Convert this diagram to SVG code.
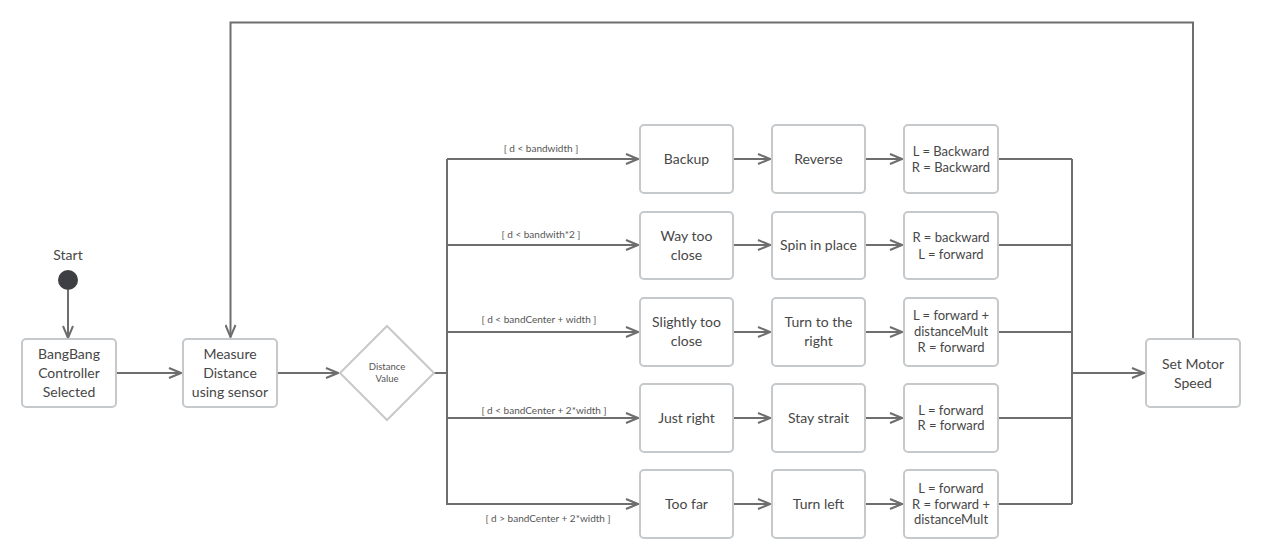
<svg xmlns="http://www.w3.org/2000/svg" width="1262" height="560" viewBox="0 0 1262 560">
<defs>
<style>
.box{fill:#fff;stroke:#c6c9cb;stroke-width:2}
.t{font-family:Lato,"Noto Sans",sans-serif;font-size:14px;fill:#474747;text-anchor:middle}
.s{font-family:Lato,"Noto Sans",sans-serif;font-size:13px;fill:#474747;text-anchor:middle}
.g{font-family:Lato,"Noto Sans",sans-serif;font-size:10px;fill:#555;text-anchor:middle}
.d{font-family:Lato,"Noto Sans",sans-serif;font-size:9.5px;fill:#555;text-anchor:middle}
.ln{fill:none;stroke:#6e6e6e;stroke-width:2}
.ar{fill:none;stroke:#6e6e6e;stroke-width:2;marker-end:url(#arr)}
</style>
<marker id="arr" viewBox="0 0 14 12" refX="13" refY="6" markerWidth="14" markerHeight="12" markerUnits="userSpaceOnUse" orient="auto">
<path d="M1,1 L13,6 L1,11" fill="none" stroke="#6e6e6e" stroke-width="2"/>
</marker>
</defs>
<rect width="1262" height="560" fill="#fff"/>
<g id="connectors">
<path class="ar" d="M68,290 V338"/>
<path class="ar" d="M116,373 H181"/>
<path class="ar" d="M277,373 H338"/>
<path class="ln" d="M434,373 H447" stroke-width="3"/>
<path class="ln" d="M447,159 V505" stroke-width="3"/>
<path class="ar" d="M447,159 H638"/>
<path class="ar" d="M447,245 H638"/>
<path class="ar" d="M447,332 H638"/>
<path class="ar" d="M447,418 H638"/>
<path class="ar" d="M447,504 H638"/>
<path class="ar" d="M733,159 H770"/>
<path class="ar" d="M733,245 H770"/>
<path class="ar" d="M733,332 H770"/>
<path class="ar" d="M733,418 H770"/>
<path class="ar" d="M733,504 H770"/>
<path class="ar" d="M865,159 H902"/>
<path class="ar" d="M865,245 H902"/>
<path class="ar" d="M865,332 H902"/>
<path class="ar" d="M865,418 H902"/>
<path class="ar" d="M865,504 H902"/>
<path class="ln" d="M998,159 H1072 M998,245 H1072 M998,332 H1072 M998,418 H1072 M998,504 H1072"/>
<path class="ln" d="M1072,159 V504"/>
<path class="ar" d="M1072,373 H1144"/>
<path class="ar" d="M1193,339 V22.5 H230.5 V337"/>
<text class="g" x="541" y="152">[ d &lt; bandwidth ]</text>
<text class="g" x="541" y="238">[ d &lt; bandwith*2 ]</text>
<text class="g" x="539" y="323">[ d &lt; bandCenter + width ]</text>
<text class="g" x="544" y="414">[ d &lt; bandCenter + 2*width ]</text>
<text class="g" x="548" y="522">[ d &gt; bandCenter + 2*width ]</text>
</g>
<g id="start">
<text class="t" x="68" y="260">Start</text>
<circle cx="68" cy="280" r="10" fill="#3d3f42"/>
</g>
<g id="bangbang">
<rect class="box" x="22" y="339" width="94" height="68" rx="4"/>
<text class="t" x="69" y="359">BangBang</text>
<text class="t" x="69" y="378">Controller</text>
<text class="t" x="69" y="397">Selected</text>
</g>
<g id="measure">
<rect class="box" x="183" y="339" width="94" height="68" rx="4"/>
<text class="t" x="230" y="359">Measure</text>
<text class="t" x="230" y="378">Distance</text>
<text class="t" x="230" y="397">using sensor</text>
</g>
<g id="decision">
<polygon points="387,326 434,373 387,420 340,373" fill="#fff" stroke="#c6c9cb" stroke-width="2"/>
<text class="d" x="387" y="370">Distance</text>
<text class="d" x="387" y="382">Value</text>
</g>
<g id="backup">
<rect class="box" x="640" y="125" width="93" height="68" rx="4"/>
<text class="t" x="686.5" y="164">Backup</text>
</g>
<g id="waytooclose">
<rect class="box" x="640" y="212" width="93" height="67" rx="4"/>
<text class="t" x="686.5" y="241">Way too</text>
<text class="t" x="686.5" y="260">close</text>
</g>
<g id="slightlytooclose">
<rect class="box" x="640" y="298" width="93" height="68" rx="4"/>
<text class="t" x="686.5" y="327">Slightly too</text>
<text class="t" x="686.5" y="346">close</text>
</g>
<g id="justright">
<rect class="box" x="640" y="384" width="93" height="68" rx="4"/>
<text class="t" x="686.5" y="423">Just right</text>
</g>
<g id="toofar">
<rect class="box" x="640" y="470" width="93" height="68" rx="4"/>
<text class="t" x="686.5" y="509">Too far</text>
</g>
<g id="reverse">
<rect class="box" x="772" y="125" width="93" height="68" rx="4"/>
<text class="t" x="818.5" y="164">Reverse</text>
</g>
<g id="spin">
<rect class="box" x="772" y="212" width="93" height="67" rx="4"/>
<text class="t" x="818.5" y="250">Spin in place</text>
</g>
<g id="turnright">
<rect class="box" x="772" y="298" width="93" height="68" rx="4"/>
<text class="t" x="818.5" y="327">Turn to the</text>
<text class="t" x="818.5" y="346">right</text>
</g>
<g id="straight">
<rect class="box" x="772" y="384" width="93" height="68" rx="4"/>
<text class="t" x="818.5" y="423">Stay strait</text>
</g>
<g id="turnleft">
<rect class="box" x="772" y="470" width="93" height="68" rx="4"/>
<text class="t" x="818.5" y="509">Turn left</text>
</g>
<g id="act1">
<rect class="box" x="904" y="125" width="94" height="68" rx="4"/>
<text class="s" x="951" y="156">L = Backward</text>
<text class="s" x="951" y="172">R = Backward</text>
</g>
<g id="act2">
<rect class="box" x="904" y="212" width="94" height="67" rx="4"/>
<text class="s" x="951" y="242">R = backward</text>
<text class="s" x="951" y="259">L = forward</text>
</g>
<g id="act3">
<rect class="box" x="904" y="298" width="94" height="68" rx="4"/>
<text class="s" x="951" y="320">L = forward +</text>
<text class="s" x="951" y="336">distanceMult</text>
<text class="s" x="951" y="352">R = forward</text>
</g>
<g id="act4">
<rect class="box" x="904" y="384" width="94" height="68" rx="4"/>
<text class="s" x="951" y="415">L = forward</text>
<text class="s" x="951" y="430">R = forward</text>
</g>
<g id="act5">
<rect class="box" x="904" y="470" width="94" height="68" rx="4"/>
<text class="s" x="951" y="493">L = forward</text>
<text class="s" x="951" y="509">R = forward +</text>
<text class="s" x="951" y="524">distanceMult</text>
</g>
<g id="setmotor">
<rect class="box" x="1146" y="339" width="94" height="68" rx="4"/>
<text class="t" x="1193" y="369">Set Motor</text>
<text class="t" x="1193" y="388">Speed</text>
</g>
</svg>
